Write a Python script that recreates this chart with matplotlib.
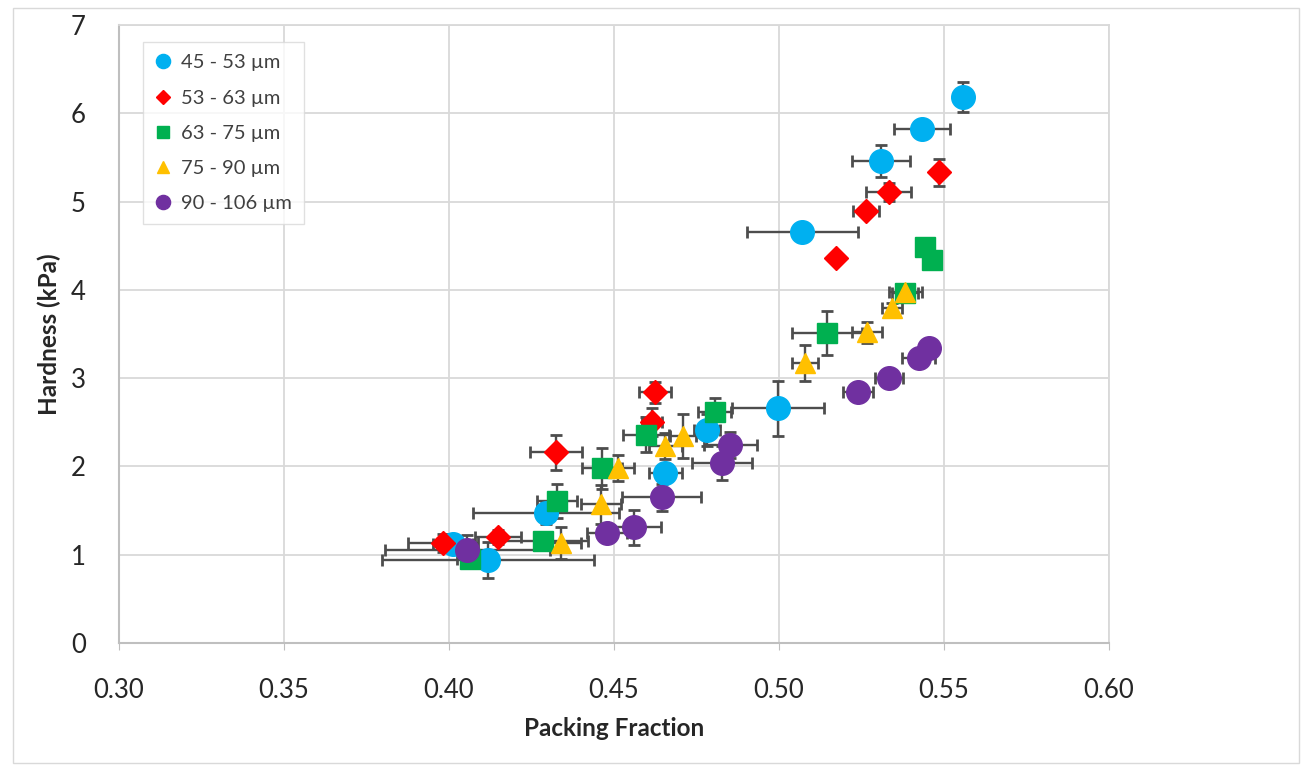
import matplotlib
matplotlib.use("Agg")
import matplotlib.pyplot as plt
from matplotlib.patches import Rectangle
from matplotlib.lines import Line2D

plt.rcParams['font.family'] = ['Lato', 'DejaVu Sans']

labels = ["45 - 53 µm", "53 - 63 µm", "63 - 75 µm", "75 - 90 µm", "90 - 106 µm"]
colors = ["#00B0F0", "#FF0000", "#00B050", "#FFC000", "#7030A0"]
markers = ["o", "D", "s", "^", "o"]
msizes = [17, 12.5, 14, 15, 17]

# 45 - 53 um
x1 = [0.5558, 0.5433, 0.5309, 0.5070, 0.4997, 0.4782, 0.4655, 0.4294, 0.4118, 0.4012]
y1 = [6.19, 5.82, 5.46, 4.65, 2.66, 2.41, 1.93, 1.47, 0.94, 1.12]
xe1 = [0.002, 0.0085, 0.0088, 0.0168, 0.0139, 0.004, 0.005, 0.022, 0.032, 0.006]
ye1 = [0.17, 0.06, 0.18, 0.04, 0.31, 0.18, 0.10, 0.12, 0.20, 0.10]

# 53 - 63 um
x2 = [0.5485, 0.5333, 0.5264, 0.5173, 0.4624, 0.4615, 0.4324, 0.4148, 0.3982]
y2 = [5.33, 5.11, 4.89, 4.36, 2.84, 2.50, 2.16, 1.20, 1.13]
xe2 = [0.001, 0.0068, 0.004, 0.0, 0.0048, 0.003, 0.008, 0.007, 0.0105]
ye2 = [0.15, 0.10, 0.05, 0.0, 0.12, 0.16, 0.20, 0.08, 0.10]

# 63 - 75 um
x3 = [0.5442, 0.5464, 0.5382, 0.5145, 0.4806, 0.4597, 0.4464, 0.4327, 0.4285, 0.4064]
y3 = [4.48, 4.34, 3.97, 3.51, 2.62, 2.36, 1.98, 1.61, 1.16, 0.95]
xe3 = [0.001, 0.001, 0.004, 0.0106, 0.005, 0.007, 0.006, 0.006, 0.0135, 0.004]
ye3 = [0.05, 0.05, 0.08, 0.25, 0.16, 0.20, 0.23, 0.19, 0.10, 0.08]

# 75 - 90 um
x4 = [0.5382, 0.5342, 0.5267, 0.5079, 0.4709, 0.4655, 0.4512, 0.4461, 0.4339]
y4 = [3.98, 3.79, 3.52, 3.17, 2.34, 2.23, 1.98, 1.57, 1.13]
xe4 = [0.005, 0.003, 0.0045, 0.004, 0.004, 0.005, 0.005, 0.006, 0.006]
ye4 = [0.08, 0.06, 0.12, 0.20, 0.25, 0.15, 0.15, 0.22, 0.18]

# 90 - 106 um
x5 = [0.5455, 0.5424, 0.5333, 0.5239, 0.4852, 0.4827, 0.4645, 0.4561, 0.4479, 0.4055]
y5 = [3.34, 3.23, 3.00, 2.84, 2.24, 2.04, 1.65, 1.31, 1.25, 1.05]
xe5 = [0.002, 0.005, 0.0042, 0.0046, 0.008, 0.009, 0.012, 0.008, 0.006, 0.025]
ye5 = [0.05, 0.05, 0.05, 0.05, 0.15, 0.19, 0.15, 0.20, 0.10, 0.17]

series = [(x1, y1, xe1, ye1), (x2, y2, xe2, ye2), (x3, y3, xe3, ye3),
          (x4, y4, xe4, ye4), (x5, y5, xe5, ye5)]

xticks = [0.30, 0.35, 0.40, 0.45, 0.50, 0.55, 0.60]
yticks = [0, 1, 2, 3, 4, 5, 6, 7]

fig = plt.figure(figsize=(13.04, 7.69), dpi=100)
ax = fig.add_axes([119/1304, 1 - 643/769, (1109-119)/1304, (643-25)/769])

grid_c = "#d9d9d9"
ax.set_axisbelow(True)
ax.grid(True, color=grid_c, linewidth=1.3)

for (xs, ys, xe, ye), lab, c, m, ms in zip(series, labels, colors, markers, msizes):
    ax.errorbar(xs, ys, xerr=xe, yerr=ye, fmt=m, color=c, markersize=ms,
                markeredgecolor=c, ecolor="#4d4d4d", elinewidth=1.7,
                capsize=4, capthick=2.0, label=lab)

ax.set_xlim(0.30, 0.60)
ax.set_ylim(0, 7)
ax.set_xticks(xticks)
ax.set_xticklabels([f"{v:.2f}" for v in xticks])
ax.set_yticks(yticks)
ax.set_yticklabels([str(v) for v in yticks])
ax.tick_params(axis='y', labelsize=18.5, length=0, pad=24)
ax.tick_params(axis='x', labelsize=18.5, length=5, color="#bfbfbf", pad=20)
for lbl in ax.get_xticklabels() + ax.get_yticklabels():
    lbl.set_color("#262626")

for s in ["top", "right"]:
    ax.spines[s].set_color(grid_c)
    ax.spines[s].set_linewidth(1.3)
for s in ["left", "bottom"]:
    ax.spines[s].set_color("#bfbfbf")
    ax.spines[s].set_linewidth(1.5)

ax.set_xlabel("Packing Fraction", fontsize=17.5, fontweight="bold", color="#262626", labelpad=10)
ax.set_ylabel("Hardness (kPa)", fontsize=17.5, fontweight="bold", color="#262626", labelpad=7)

handles = [Line2D([], [], linestyle="none", marker=m, color=c, markersize=ms * 0.6,
                  markeredgecolor=c)
           for c, m, ms in zip(colors, markers, msizes)]
leg = ax.legend(handles, labels, loc="upper left", bbox_to_anchor=(0.024, 0.972),
                borderaxespad=0, fontsize=14.5, frameon=True, fancybox=False,
                edgecolor="#d9d9d9", handlelength=0.8, handletextpad=0.5,
                labelspacing=0.9, borderpad=0.6)
leg.get_frame().set_linewidth(1.0)
for t in leg.get_texts():
    t.set_color("#404040")

fig.patches.append(Rectangle((13/1304, 1 - 763/769), (1299-13)/1304, (763-8)/769,
                             transform=fig.transFigure, fill=False,
                             edgecolor="#d9d9d9", linewidth=1.0))

fig.savefig("out.png", dpi=100, facecolor="white")
